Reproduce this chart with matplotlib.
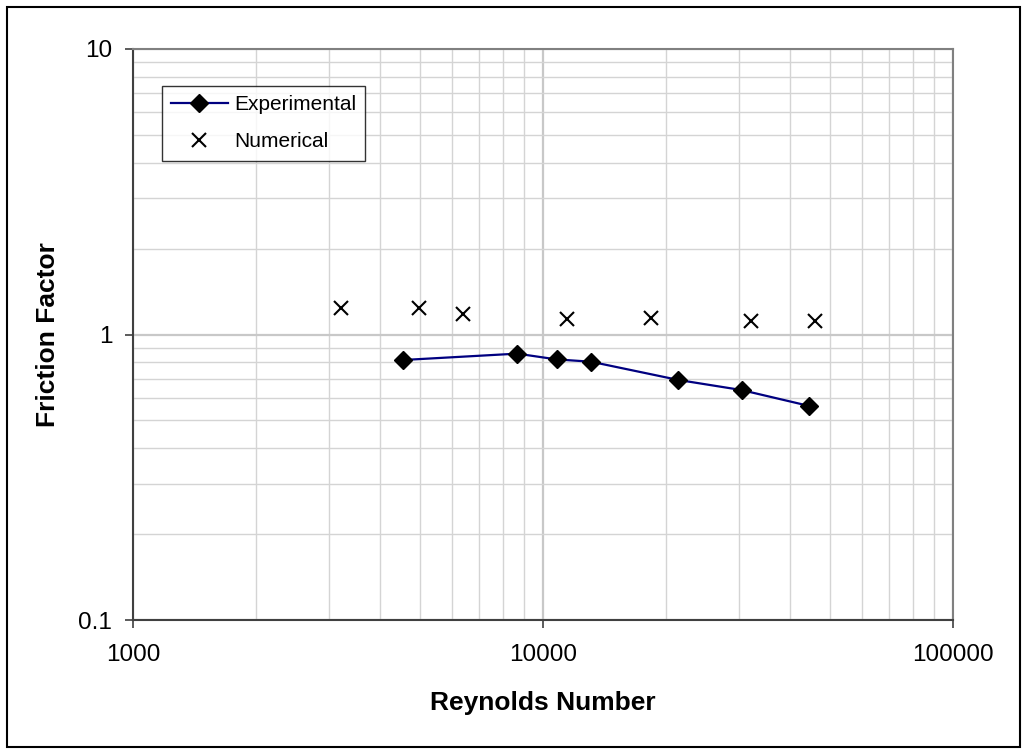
import matplotlib
matplotlib.use("Agg")
import matplotlib.pyplot as plt
from matplotlib.ticker import FixedLocator, FixedFormatter, LogLocator, NullFormatter
from matplotlib.patches import Rectangle

plt.rcParams['font.family'] = ['Liberation Sans', 'DejaVu Sans']

# Experimental data
exp_re = [4550, 8650, 10800, 13100, 21400, 30500, 44600]
exp_f = [0.814, 0.857, 0.818, 0.803, 0.693, 0.639, 0.562]

# Numerical data
num_re = [3210, 4990, 6370, 11440, 18330, 32140, 46040]
num_f = [1.235, 1.235, 1.18, 1.136, 1.14, 1.117, 1.117]

x_ticks = [1000, 10000, 100000]
x_labels = ['1000', '10000', '100000']
y_ticks = [0.1, 1, 10]
y_labels = ['0.1', '1', '10']

fig = plt.figure(figsize=(10.26, 7.49), dpi=100)
ax = fig.add_axes([0.1296, 0.1722, 0.7992, 0.7624])

ax.set_xscale('log')
ax.set_yscale('log')
ax.set_xlim(1000, 100000)
ax.set_ylim(0.1, 10)

ax.plot(exp_re, exp_f, color='#000080', linewidth=1.6, marker='D',
        markersize=9, markerfacecolor='black', markeredgecolor='black',
        label='Experimental')
ax.plot(num_re, num_f, linestyle='none', marker='x', markersize=9.5,
        markeredgewidth=1.5, color='black', label='Numerical')

ax.xaxis.set_major_locator(FixedLocator(x_ticks))
ax.xaxis.set_major_formatter(FixedFormatter(x_labels))
ax.yaxis.set_major_locator(FixedLocator(y_ticks))
ax.yaxis.set_major_formatter(FixedFormatter(y_labels))
ax.xaxis.set_minor_locator(LogLocator(base=10, subs=range(2, 10)))
ax.yaxis.set_minor_locator(LogLocator(base=10, subs=range(2, 10)))
ax.xaxis.set_minor_formatter(NullFormatter())
ax.yaxis.set_minor_formatter(NullFormatter())

ax.grid(True, which='major', color='#c8c8c8', linewidth=1.6)
ax.grid(True, which='minor', color='#d4d4d4', linewidth=1.0)
ax.set_axisbelow(True)

ax.tick_params(which='major', direction='out', length=6, width=1.2,
               color='#404040', labelsize=17.5)
ax.tick_params(axis='x', which='major', pad=11)
ax.tick_params(axis='y', which='major', pad=9)
ax.tick_params(which='minor', length=0)

for side in ['top', 'right']:
    ax.spines[side].set_color('#808080')
    ax.spines[side].set_linewidth(1.5)
for side in ['left', 'bottom']:
    ax.spines[side].set_color('#404040')
    ax.spines[side].set_linewidth(1.5)

ax.set_xlabel('Reynolds Number', fontsize=19, fontweight='bold', va='center')
ax.set_ylabel('Friction Factor', fontsize=19, fontweight='bold', va='center')
ax.xaxis.set_label_coords(0.5, -0.146)
ax.yaxis.set_label_coords(-0.104, 0.5)

leg = ax.legend(loc='upper left', bbox_to_anchor=(0.0354, 0.935), fontsize=15,
                frameon=True, fancybox=False, edgecolor='black',
                borderaxespad=0, borderpad=0.45, labelspacing=0.85,
                handlelength=2.7, handletextpad=0.3)
leg.get_frame().set_linewidth(1.0)

# outer chart border
fig.patches.append(Rectangle((7 / 1026, 2 / 749), 1013 / 1026, 740 / 749,
                             transform=fig.transFigure, fill=False,
                             edgecolor='black', linewidth=1.5))

fig.savefig('out.png', dpi=100)
